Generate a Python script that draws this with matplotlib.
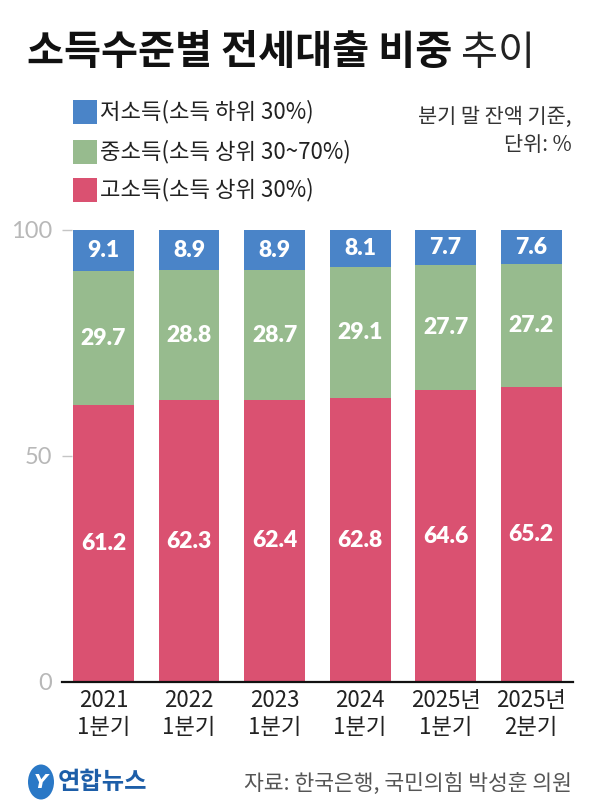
import matplotlib
matplotlib.use("Agg")
import matplotlib.pyplot as plt
from matplotlib.patches import Rectangle, Ellipse
import numpy as np

plt.rcParams['font.family'] = ['Noto Sans CJK KR', 'DejaVu Sans']

categories = ["2021\n1분기", "2022\n1분기", "2023\n1분기", "2024\n1분기", "2025년\n1분기", "2025년\n2분기"]
low_income = [9.1, 8.9, 8.9, 8.1, 7.7, 7.6]
mid_income = [29.7, 28.8, 28.7, 29.1, 27.7, 27.2]
high_income = [61.2, 62.3, 62.4, 62.8, 64.6, 65.2]
series_names = ["저소득(소득 하위 30%)", "중소득(소득 상위 30~70%)", "고소득(소득 상위 30%)"]
y_ticks = [0, 50, 100]

title_bold = "소득수준별 전세대출 비중"
title_light = "추이"
note_text = "분기 말 잔액 기준,\n단위: %"
source_text = "자료: 한국은행, 국민의힘 박성훈 의원"
logo_text = "연합뉴스"

C_LOW = "#4a84c8"
C_MID = "#97bb8e"
C_HIGH = "#da5171"

W, H = 597, 809
fig = plt.figure(figsize=(W / 100, H / 100), dpi=100)
fig.patch.set_facecolor("white")

def fx(px):
    return px / W

def fy(py):
    return 1 - py / H

ax = fig.add_axes([fx(62), fy(682), fx(573) - fx(62), fy(230) - fy(682)])
x = np.arange(len(categories))
bw = 0.713
ax.bar(x, high_income, bw, color=C_HIGH, zorder=2)
ax.bar(x, mid_income, bw, bottom=high_income, color=C_MID, zorder=2)
bottom2 = np.array(high_income) + np.array(mid_income)
ax.bar(x, low_income, bw, bottom=bottom2, color=C_LOW, zorder=2)

for i in range(len(x)):
    segs = [(0, high_income[i]), (high_income[i], mid_income[i]), (bottom2[i], low_income[i])]
    for b, v in segs:
        ax.text(x[i], b + v / 2, f"{v:.1f}", ha="center", va="center", color="white",
                fontsize=16.5, fontweight="heavy", family=["Lato", "DejaVu Sans"], zorder=3)

ax.set_xlim(-0.485, 5.49)
ax.set_ylim(0, 100)
ax.set_yticks(y_ticks)
ax.set_yticklabels([str(t) for t in y_ticks], family=["Lato", "DejaVu Sans"],
                   fontweight="normal", fontsize=17, color="#b8b8b8")
ax.tick_params(axis="y", direction="in", length=7.2, width=1.0, color="#c5c5c5", pad=7.2)
ax.yaxis.get_major_ticks()[0].tick1line.set_visible(False)
ax.set_xticks(x)
ax.set_xticklabels(categories, fontsize=16, color="#222222", linespacing=1.2)
ax.tick_params(axis="x", length=0, pad=5)
for s in ["left", "right", "top"]:
    ax.spines[s].set_visible(False)
ax.spines["bottom"].set_linewidth(1.6)
ax.spines["bottom"].set_color("#111111")
ax.spines["bottom"].set_zorder(4)

# Title
t1 = fig.text(fx(27), fy(53), title_bold, fontsize=29, fontweight="bold",
              ha="left", va="center", color="#111111")
fig.canvas.draw()
r = fig.canvas.get_renderer()
bb = t1.get_window_extent(renderer=r)
fig.text(bb.x1 / W + fx(9), fy(53), title_light, fontsize=29, fontweight="light",
         ha="left", va="center", color="#222222")

# Legend
colors = [C_LOW, C_MID, C_HIGH]
rows_y = [112, 152, 190]
for c, name, yy in zip(colors, series_names, rows_y):
    fig.patches.append(Rectangle((fx(73), fy(yy + 12)), fx(24), fy(yy - 12) - fy(yy + 12),
                                 transform=fig.transFigure, facecolor=c, edgecolor="none"))
    fig.text(fx(100), fy(yy), name, fontsize=16, ha="left", va="center", color="#222222")

# Note
fig.text(fx(572), fy(131), note_text, fontsize=15, ha="right", va="center",
         multialignment="right", color="#333333", linespacing=1.35)

# Logo and source
fig.patches.append(Ellipse((fx(41), fy(782)), fx(26), fy(765) - fy(800),
                           transform=fig.transFigure, facecolor="#2a78c6", edgecolor="none",
                           angle=0))
fig.text(fx(41), fy(782), "Y", fontsize=14, fontweight="bold", color="white",
         ha="center", va="center", family=["DejaVu Sans"], style="italic")
fig.text(fx(58), fy(782), logo_text, fontsize=17.5, fontweight="bold", color="#1d5ea8",
         ha="left", va="center")
fig.text(fx(572), fy(784), source_text, fontsize=15.5, color="#555555",
         ha="right", va="center")

fig.savefig("out.png", dpi=100)
